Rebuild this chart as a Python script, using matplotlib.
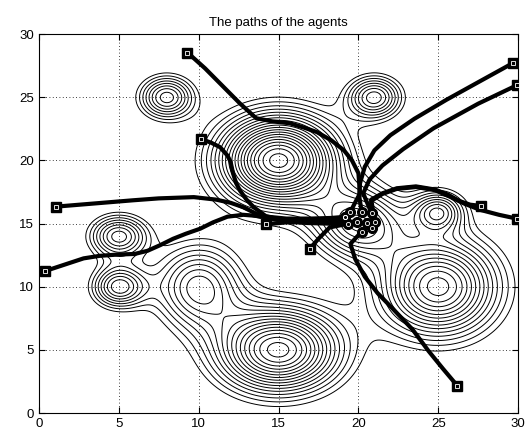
import numpy as np
import matplotlib.pyplot as plt

plt.rcParams['font.family'] = ['Liberation Sans', 'DejaVu Sans']

# density bumps: centre x, centre y, height, spread in x, spread in y
bump_x = [15, 15, 25, 10, 5, 5, 8, 21, 25, 20]
bump_y = [20, 5, 10, 10, 10, 14, 25, 25, 16, 15]
bump_h = [22.5, 18.5, 16.5, 10.5, 10.5, 10.5, 10.5, 10.5, 9.5, 11.5]
bump_sx = [2.6, 2.7, 2.6, 1.95, 1.2, 1.3, 1.22, 1.22, 1.15, 2.0]
bump_sy = [2.5, 2.35, 2.75, 2.35, 1.2, 1.2, 1.22, 1.22, 1.15, 2.0]
contour_levels = np.arange(3, 23, 1)

# agent trajectories, start -> end
path_a = [(9.3, 28.55), (10.4, 27.3), (11.5, 25.9), (12.6, 24.5), (13.6, 23.35), (14.6, 23.1),
          (15.7, 22.95), (16.6, 22.6), (17.4, 22.25), (18.3, 21.6), (19.1, 20.8), (19.6, 20.0),
          (20.0, 19.0), (20.1, 17.4), (19.5, 15.95)]
path_b = [(29.65, 27.7), (27.5, 26.2), (25.5, 24.8), (23.5, 23.3), (22.0, 22.0), (21.0, 20.8),
          (20.4, 19.5), (20.1, 18.2), (20.05, 17.2), (20.2, 15.95)]
path_c = [(29.9, 25.95), (27.5, 24.5), (24.7, 22.55), (22.8, 20.9), (21.5, 19.6), (20.7, 18.5),
          (20.3, 17.4), (20.83, 15.81)]
path_d = [(27.7, 16.4), (27.0, 16.5), (26.3, 16.8), (25.6, 17.3), (24.8, 17.7), (23.6, 17.95),
          (22.4, 17.8), (21.5, 17.4), (20.8, 16.9), (21.04, 15.15)]
path_e = [(29.9, 15.4), (28.8, 15.7), (27.6, 16.1), (26.6, 16.6), (25.8, 17.1), (24.8, 17.65),
          (23.6, 17.9), (22.4, 17.75), (21.5, 17.35), (20.8, 16.8), (20.83, 14.62)]
path_f = [(26.2, 2.15), (25.3, 3.5), (24.4, 4.9), (23.4, 6.6), (22.2, 8.2), (21.2, 9.5),
          (20.4, 10.8), (19.8, 12.2), (19.5, 13.4), (20.2, 14.36)]
path_g = [(16.95, 13.0), (17.5, 13.8), (18.2, 14.7), (19.37, 15.0)]
path_h = [(14.2, 14.95), (15.5, 15.1), (17.0, 15.1), (18.3, 15.2), (19.16, 15.54)]
path_i = [(0.4, 11.25), (1.6, 11.75), (2.8, 12.25), (3.8, 12.45), (4.9, 12.55), (6.0, 12.6),
          (6.8, 12.85), (7.6, 13.3), (8.4, 13.8), (9.2, 14.2), (10.1, 14.6), (10.9, 15.1),
          (11.8, 15.55), (12.8, 15.7), (14.3, 15.55), (15.5, 15.4), (17.0, 15.4), (18.3, 15.45),
          (19.16, 15.54)]
path_j = [(1.1, 16.35), (3.5, 16.6), (5.9, 16.85), (7.5, 17.0), (9.7, 17.1), (11.1, 16.9),
          (12.0, 16.65), (12.8, 16.3), (13.5, 15.85), (14.1, 15.5), (15.3, 15.25), (16.8, 15.15),
          (18.2, 15.15), (19.89, 15.15)]
path_k = [(10.15, 21.7), (10.8, 21.4), (11.35, 21.05), (11.8, 20.4), (12.0, 19.9), (12.15, 19.0),
          (12.35, 18.2), (12.6, 17.6), (13.0, 16.9), (13.45, 16.3), (14.2, 15.6), (15.3, 15.25),
          (16.8, 15.05), (18.2, 15.0), (20.52, 15.02)]
paths = [path_a, path_b, path_c, path_d, path_e, path_f, path_g, path_h, path_i, path_j, path_k]

# density field on the square
gx, gy = np.meshgrid(np.linspace(0, 30, 301), np.linspace(0, 30, 301))
field = np.zeros_like(gx)
for cx, cy, h, sx, sy in zip(bump_x, bump_y, bump_h, bump_sx, bump_sy):
    field += h * np.exp(-((gx - cx) ** 2 / (2 * sx ** 2) + (gy - cy) ** 2 / (2 * sy ** 2)))

fig = plt.figure(figsize=(5.25, 4.33), dpi=100)
ax = fig.add_axes([0.074, 0.046, 0.913, 0.875])

ax.contour(gx, gy, field, levels=contour_levels, colors='k', linewidths=0.7)

for p in paths:
    xs = [q[0] for q in p]
    ys = [q[1] for q in p]
    ax.plot(xs, ys, color='k', lw=3, solid_capstyle='round', solid_joinstyle='round')

for p in paths:
    # start marker
    ax.plot(p[0][0], p[0][1], 's', ms=7, mfc='k', mec='k', zorder=5)
    ax.plot(p[0][0], p[0][1], 's', ms=2.5, mfc='none', mec='w', mew=0.6, zorder=6)
    # final position
    ax.plot(p[-1][0], p[-1][1], 'o', ms=7, mfc='k', mec='k', zorder=5)
    ax.plot(p[-1][0], p[-1][1], 'o', ms=3, mfc='none', mec='w', mew=0.6, zorder=6)

ax.set_xlim(0, 30)
ax.set_ylim(0, 30)
ax.set_xticks(range(0, 31, 5))
ax.set_yticks(range(0, 31, 5))
ax.grid(True, color='k', linestyle=(0, (1, 3)), linewidth=0.6)
ax.tick_params(direction='in', top=True, right=True, labelsize=9.5, length=4)
for s in ax.spines.values():
    s.set_linewidth(0.8)
ax.set_title('The paths of the agents', fontsize=9.5)

fig.savefig('out.png', dpi=100)
